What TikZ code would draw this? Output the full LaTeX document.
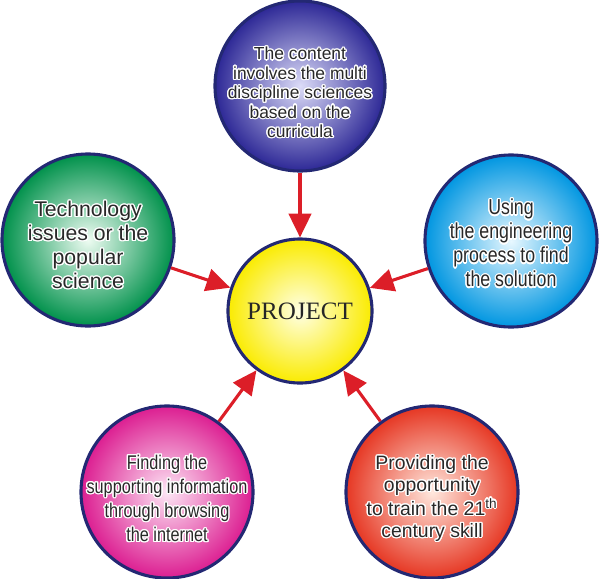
\documentclass[tikz,border=0pt]{standalone}
\usepackage{fontspec}
\setmainfont{Liberation Sans}
\newfontfamily\bubsans{Liberation Sans}
\newfontfamily\bubnarrow[FakeStretch=0.82]{Liberation Sans}
\newfontfamily\projserif{Liberation Serif}
\usepackage{xcolor}
\usepackage{contour}
\contourlength{0.9pt}
\definecolor{bubedge}{RGB}{35,40,115}
\definecolor{bubink}{RGB}{40,40,40}
\definecolor{arrred}{RGB}{220,30,40}
\definecolor{topin}{RGB}{220,220,248}
\definecolor{topout}{RGB}{45,40,150}
\definecolor{techin}{RGB}{238,252,242}
\definecolor{techout}{RGB}{0,145,75}
\definecolor{engin}{RGB}{232,248,255}
\definecolor{engout}{RGB}{0,150,225}
\definecolor{findin}{RGB}{253,230,245}
\definecolor{findout}{RGB}{220,30,145}
\definecolor{provin}{RGB}{255,232,222}
\definecolor{provout}{RGB}{230,55,35}
\definecolor{projin}{RGB}{255,255,230}
\definecolor{projout}{RGB}{250,235,0}
\usetikzlibrary{arrows.meta}
\newcommand{\hl}[1]{\contour{white}{#1}}

\begin{document}
\begin{tikzpicture}[x=0.025cm, y=-0.025cm,
  bubble/.style={circle, draw=bubedge, line width=2.2pt, minimum size=4.3cm, inner sep=0pt},
  bubtext/.style={align=center, text=bubink, inner sep=0pt},
  parr/.style={-{Triangle[length=17pt, width=16pt]}, line width=2.2pt, draw=arrred}
]
\useasboundingbox (0,0) rectangle (600,579);

% Central node
\node[bubble, minimum size=3.6cm, inner color=projin, outer color=projout] (proj) at (300,311) {};
\node[font=\projserif\fontsize{17.8}{20}\selectfont, text=black!85] (projtxt) at (proj) {PROJECT};

% Surrounding bubbles
\node[bubble, minimum size=4.25cm, inner color=topin,  outer color=topout]  (cont) at (300, 86) {};
\node[bubble, inner color=techin, outer color=techout] (tech) at ( 88,240) {};
\node[bubble, inner color=engin,  outer color=engout]  (eng)  at (511,241) {};
\node[bubble, inner color=findin, outer color=findout] (find) at (167,492) {};
\node[bubble, inner color=provin, outer color=provout] (prov) at (432,492) {};

% Bubble texts
\node[bubtext, font=\bubsans\fontsize{12.4}{13.8}\selectfont] (conttxt) at ([yshift=-5]cont)
  {\hl{The content}\\\hl{involves the multi}\\\hl{discipline sciences}\\\hl{based on the}\\\hl{curricula}};
\node[bubtext, font=\bubsans\fontsize{15.1}{17.1}\selectfont] (techtxt) at ([yshift=-4]tech)
  {\hl{Technology}\\\hl{issues or the}\\\hl{popular}\\\hl{science}};
\node[bubtext, font=\bubnarrow\fontsize{15.4}{17.1}\selectfont] (engtxt) at ([yshift=-2]eng)
  {\hl{Using}\\\hl{the engineering}\\\hl{process to find}\\\hl{the solution}};
\node[bubtext, font=\bubnarrow\fontsize{14.1}{17.1}\selectfont] (findtxt) at ([yshift=-5]find)
  {\hl{Finding the}\\\hl{supporting information}\\\hl{through browsing}\\\hl{the internet}};
\node[bubtext, font=\bubsans\fontsize{13.8}{15.6}\selectfont] (provtxt) at ([yshift=-5]prov)
  {\hl{Providing the}\\\hl{opportunity}\\\hl{to train the 21\textsuperscript{th}}\\\hl{century skill}};

% Arrows
\foreach \src in {cont, tech, eng, find, prov}
  \draw[parr] (\src) -- (proj);
\end{tikzpicture}
\end{document}
